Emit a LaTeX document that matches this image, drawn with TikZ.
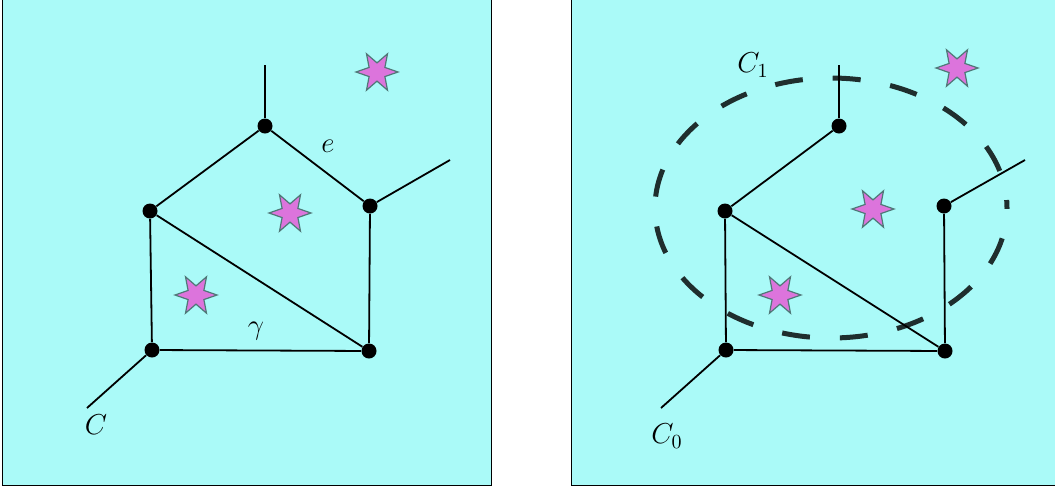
\documentclass[tikz,border=0pt]{standalone}
\usepackage{tikz}
\usetikzlibrary{shapes.geometric}
\usepackage{xcolor}
\definecolor{panelcyan}{HTML}{AAFAF8}
\definecolor{starviolet}{HTML}{DC74DC}
\definecolor{stargrey}{HTML}{507878}
\definecolor{loopgrey}{HTML}{1F2E2E}

\begin{document}
\begin{tikzpicture}[x=0.5pt,y=-0.5pt,
    vertex/.style={circle,fill=black,inner sep=0pt,minimum size=7.5pt},
    edge/.style={black,line width=0.9pt},
    puncture/.style={star,star points=6,star point ratio=2.3,shape border rotate=30,
      minimum size=21pt,inner sep=0pt,fill=starviolet,draw=stargrey,line width=0.6pt},
    lbl/.style={inner sep=0pt,font=\Large},
    cutloop/.style={loopgrey,line width=2.5pt,dash pattern=on 14pt off 15pt,dash phase=10pt}]
  \useasboundingbox (0,0) rectangle (1055,488);

  % left panel
  \draw[fill=panelcyan,line width=0.5pt] (2.5,-5) rectangle (491.5,485.5);
  \node[puncture] (s1) at (377,72) {};
  \node[puncture] (s2) at (290,213) {};
  \node[puncture] (s3) at (196,295) {};
  \node[vertex] (top) at (265,126) {};
  \node[vertex] (lft) at (150,211) {};
  \node[vertex] (rgt) at (370,206) {};
  \node[vertex] (bl) at (152,350) {};
  \node[vertex] (br) at (369,351) {};
  \coordinate (topend) at (265,65);
  \coordinate (rgtend) at (450,160);
  \coordinate (blend) at (87,408);
  \draw[edge] (top) -- (topend);
  \draw[edge] (rgt) -- (rgtend);
  \draw[edge] (bl) -- (blend);
  \draw[edge] (top) -- (lft);
  \draw[edge] (top) -- (rgt);
  \draw[edge] (rgt) -- (br);
  \draw[edge] (lft) -- (bl);
  \draw[edge] (lft) -- (br);
  \draw[edge] (bl) -- (br);
  \node[lbl] (lc) at (96,425) {$C$};
  \node[lbl] (le) at (328,146) {$e$};
  \node[lbl] (lg) at (256,331) {$\gamma$};

  % right panel
  \draw[fill=panelcyan,line width=0.5pt] (571,-5) rectangle (1065,485.5);
  \begin{scope}[shift={(575,0)}]
    \node[puncture] (t1) at (382,68) {};
    \node[puncture] (t2) at (298,209) {};
    \node[puncture] (t3) at (205,295) {};
    \draw[cutloop] (256,208) ellipse [x radius=88pt,y radius=65pt];
    \node[vertex] (top2) at (264,126) {};
    \node[vertex] (lft2) at (150,211) {};
    \node[vertex] (rgt2) at (369,206) {};
    \node[vertex] (bl2) at (151,350) {};
    \node[vertex] (br2) at (370,351) {};
    \coordinate (topend2) at (264,65);
    \coordinate (rgtend2) at (450,160);
    \coordinate (blend2) at (86,408);
    \draw[edge] (top2) -- (topend2);
    \draw[edge] (rgt2) -- (rgtend2);
    \draw[edge] (bl2) -- (blend2);
    \draw[edge] (top2) -- (lft2);
    \draw[edge] (rgt2) -- (br2);
    \draw[edge] (lft2) -- (bl2);
    \draw[edge] (lft2) -- (br2);
    \draw[edge] (bl2) -- (br2);
    \node[lbl] (c0) at (92,436) {$C_0$};
    \node[lbl] (c1) at (178,65) {$C_1$};
  \end{scope}
\end{tikzpicture}
\end{document}
